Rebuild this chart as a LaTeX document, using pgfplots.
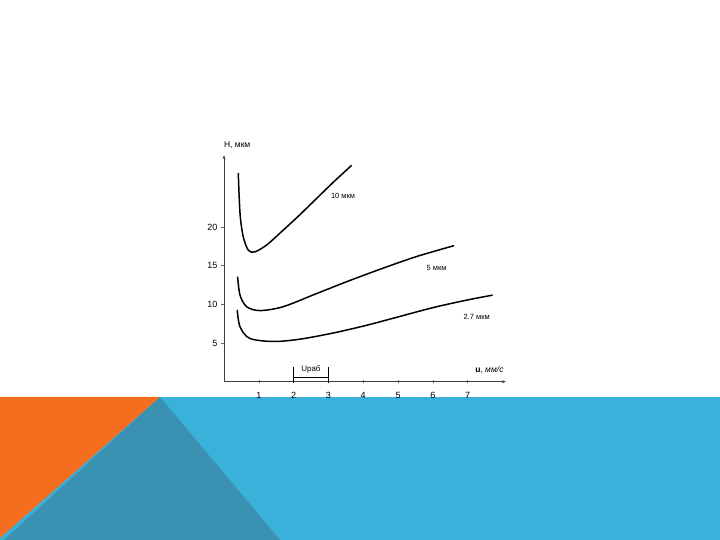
\documentclass[border=0pt]{standalone}
\usepackage{fontspec}
\setmainfont{Liberation Sans}
\usepackage{pgfplots}
\pgfplotsset{compat=1.18}
\usetikzlibrary{arrows.meta}
\definecolor{band}{HTML}{39B1DB}
\definecolor{dband}{HTML}{3A91B1}
\definecolor{orng}{HTML}{F56D1F}

\begin{document}
\begin{tikzpicture}[x=1pt,y=1pt]
\useasboundingbox (0,0) rectangle (720,540);
\fill[white] (0,0) rectangle (720,540);
% slide decoration at the bottom
\fill[band] (0,0) rectangle (720,143);
\fill[orng] (0,143) -- (160,143) -- (0,2) -- cycle;
\fill[dband] (160,143) -- (4,0) -- (280,0) -- cycle;

\begin{axis}[at={(224pt,158.3pt)}, anchor=south west,
  x=34.8pt, y=7.73pt, xmin=0, xmax=8.1, ymin=0, ymax=29.3,
  axis lines=left, clip=false,
  axis line style={line width=0.6pt, black!75, -{Stealth[length=4pt,width=3pt]}},
  xtick={1,...,7}, ytick={5,10,15,20},
  tick style={black!60, line width=0.5pt}, major tick length=3pt,
  xtick align=center, ytick align=outside,
  xticklabel style={yshift=-3pt, text height=1.6ex, text depth=0.2ex},
  tick label style={font=\fontsize{9}{10}\selectfont},
  /pgf/number format/assume math mode=true]
\addplot[black, line width=1.5pt, smooth] coordinates {
  (0.41,27.0) (0.46,21.8) (0.55,18.8) (0.70,17.0) (0.89,16.8) (1.23,17.7)
  (1.70,19.6) (2.18,21.6) (2.66,23.7) (3.14,25.8) (3.67,28.0)};
\addplot[black, line width=1.5pt, smooth] coordinates {
  (0.39,13.6) (0.46,11.2) (0.65,9.7) (1.03,9.2) (1.70,9.7) (2.66,11.4)
  (3.62,13.1) (4.58,14.7) (5.54,16.2) (6.61,17.6)};
\addplot[black, line width=1.5pt, smooth] coordinates {
  (0.38,9.3) (0.46,7.1) (0.74,5.6) (1.42,5.2) (2.18,5.5) (3.14,6.3)
  (4.10,7.3) (5.06,8.45) (6.02,9.6) (6.97,10.55) (7.72,11.2)};
\node[font=\fontsize{7.5}{8}\selectfont] at (axis cs:3.42,24.0) {10 мкм};
\node[font=\fontsize{7.5}{8}\selectfont] at (axis cs:6.11,14.7) {5 мкм};
\node[font=\fontsize{7.5}{8}\selectfont] at (axis cs:7.26,8.4) {2.7 мкм};
\node[anchor=west, font=\fontsize{8.5}{9}\selectfont] at (axis cs:-0.1,30.6) {H, мкм};
\node[anchor=west, font=\fontsize{8.5}{9}\selectfont] at (axis cs:7.12,1.5) {\textbf{u}, \textit{мм/с}};
\node[anchor=west, font=\fontsize{8}{9}\selectfont] at (axis cs:2.12,1.6) {Uраб};
\draw[black, line width=1.3pt] (axis cs:2,0.55) -- (axis cs:3,0.55);
\draw[black, line width=1pt] (axis cs:2,-0.2) -- (axis cs:2,1.9);
\draw[black, line width=1pt] (axis cs:3,-0.2) -- (axis cs:3,1.9);
\end{axis}
\end{tikzpicture}
\end{document}
